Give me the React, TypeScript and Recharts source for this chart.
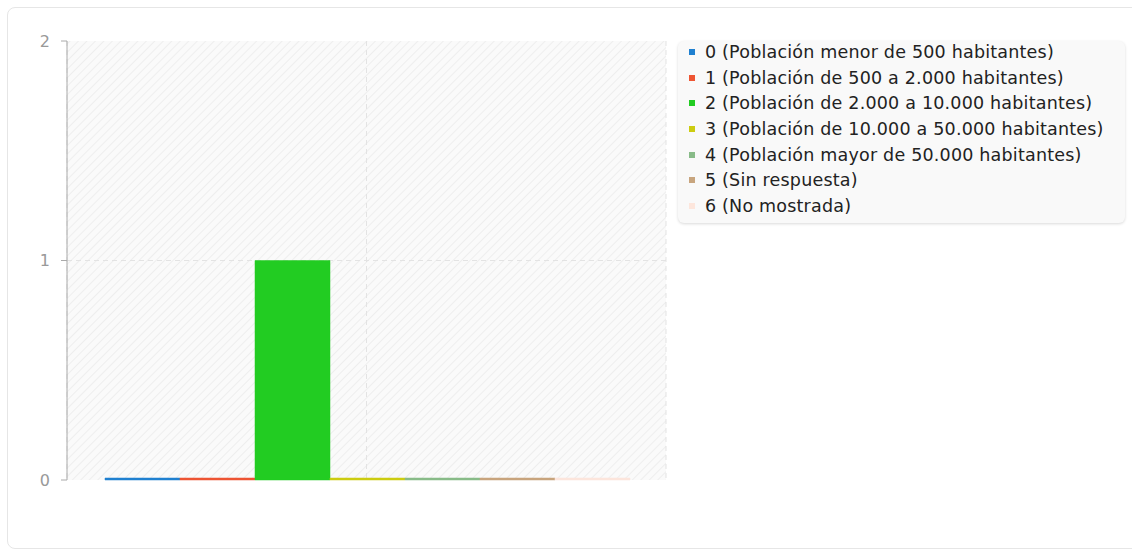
import { BarChart, Bar, XAxis, YAxis, CartesianGrid } from 'recharts';

// one category, seven series (one per population band)
const categories = ['Tamaño de población'];
const seriesLabels = [
  '0 (Población menor de 500 habitantes)',
  '1 (Población de 500 a 2.000 habitantes)',
  '2 (Población de 2.000 a 10.000 habitantes)',
  '3 (Población de 10.000 a 50.000 habitantes)',
  '4 (Población mayor de 50.000 habitantes)',
  '5 (Sin respuesta)',
  '6 (No mostrada)',
];
const seriesValues = [0, 0, 1, 0, 0, 0, 0];
const seriesColors = ['#1f80d0', '#ee5533', '#22cc22', '#cccc11', '#88bb88', '#c8a57e', '#fde6dc'];
const yTicks = [0, 1, 2];
const gridValues = [1];

const data = categories.map((name) => {
  const row: Record<string, string | number> = { name };
  seriesValues.forEach((v, i) => {
    row[`s${i}`] = v;
  });
  return row;
});

const font = '"DejaVu Sans", Verdana, sans-serif';

function LegendBox() {
  return (
    <div
      style={{
        position: 'absolute',
        left: 678,
        top: 41,
        width: 447,
        height: 182,
        background: '#f9f9f9',
        borderRadius: 6,
        boxShadow: '0 1px 3px rgba(0,0,0,0.15)',
        padding: '0 0 0 11px',
        boxSizing: 'border-box',
        fontFamily: font,
        fontSize: 17.5,
        letterSpacing: 0.2,
        color: '#222',
      }}
    >
      {seriesLabels.map((label, i) => (
        <div key={label} style={{ display: 'flex', alignItems: 'center', height: 25.7, marginTop: i === 0 ? -2 : 0 }}>
          <span
            style={{
              display: 'inline-block',
              width: 6,
              height: 6,
              background: seriesColors[i],
              marginRight: 10,
            }}
          />
          <span>{label}</span>
        </div>
      ))}
    </div>
  );
}

export default function App() {
  return (
    <div style={{ position: 'absolute', left: 0, top: 0, width: 1132, height: 549, overflow: 'hidden' }}>
      <div
        style={{
          position: 'absolute',
          left: 7,
          top: 7,
          width: 1150,
          height: 540,
          border: '1px solid #e6e6e6',
          borderRadius: 8,
          background: '#fff',
        }}
      />
      <svg width={0} height={0} style={{ position: 'absolute' }}>
        <defs>
          <pattern id="hatch" width={6} height={6} patternUnits="userSpaceOnUse" patternTransform="rotate(45)">
            <rect width={6} height={6} fill="#fafafa" />
            <line x1={0} y1={0} x2={0} y2={6} stroke="#eeeeee" strokeWidth={2} />
          </pattern>
        </defs>
      </svg>
      <div style={{ position: 'absolute', left: 0, top: 0 }}>
        <BarChart
          width={1132}
          height={549}
          data={data}
          margin={{ top: 41, right: 466, bottom: 69, left: 0 }}
          barGap={0}
          barCategoryGap={38}
        >
          <CartesianGrid
            fill="url(#hatch)"
            stroke="#e3e3e3"
            strokeDasharray="5 4"
            horizontalValues={gridValues}
          />
          <XAxis
            dataKey="name"
            height={0}
            tick={() => <g />}
            tickLine={false}
            axisLine={{ stroke: '#999' }}
          />
          <XAxis xAxisId="top" orientation="top" height={0} tick={false} tickLine={false} axisLine={{ stroke: '#dcdcdc' }} />
          <YAxis
            domain={[0, 2]}
            ticks={yTicks}
            width={67}
            tickSize={6}
            tickMargin={11}
            tick={{ fill: '#999', fontSize: 16, fontFamily: font }}
            axisLine={{ stroke: '#aaa' }}
            tickLine={{ stroke: '#aaa' }}
          />
          <YAxis
            yAxisId="right"
            orientation="right"
            width={0}
            tick={false}
            tickLine={false}
            axisLine={{ stroke: '#dcdcdc' }}
          />
          {seriesValues.map((_, i) => (
            <Bar
              key={i}
              dataKey={`s${i}`}
              name={seriesLabels[i]}
              fill={seriesColors[i]}
              stroke={seriesColors[i]}
              strokeOpacity={0.5}
              minPointSize={2}
              isAnimationActive={false}
            />
          ))}
        </BarChart>
      </div>
      <LegendBox />
    </div>
  );
}
